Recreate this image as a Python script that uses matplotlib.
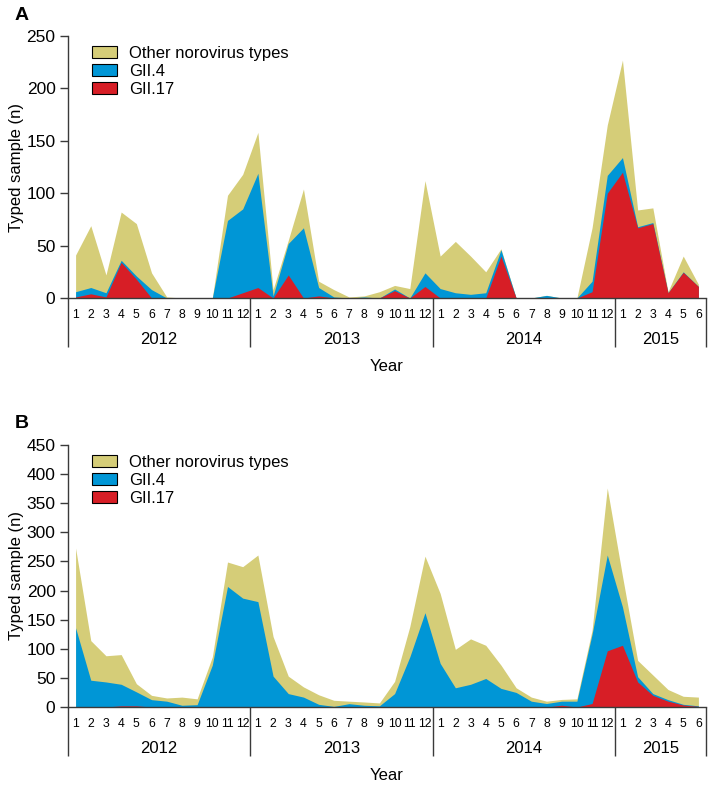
import numpy as np
import matplotlib
matplotlib.use("Agg")
import matplotlib.pyplot as plt
from matplotlib.patches import Patch

plt.rcParams["font.family"] = ["Liberation Sans", "DejaVu Sans"]

# month labels (Jan 2012 .. Jun 2015)
months = [str(m) for m in range(1, 13)] * 3 + [str(m) for m in range(1, 7)]
years = ["2012", "2013", "2014", "2015"]
year_len = [12, 12, 12, 6]

# panel A: top edge of each area (n)
other_a = [41, 69, 22, 82, 71, 24, 1, 0, 0, 0, 98, 118,
           158, 8, 55, 104, 16, 8, 1, 2, 6, 12, 9, 112,
           40, 54, 40, 25, 47, 0, 0, 2.5, 0, 0, 67, 165,
           227, 84, 86, 6, 40, 13]
gii4_a = [6, 10, 5, 36, 21, 8, 0, 0, 0, 0, 74, 85,
          119, 2, 52, 67, 10, 1, 0, 1, 0, 8.6, 0, 24,
          9, 5, 3.5, 5, 46, 0, 0, 2.5, 0, 0, 16, 117,
          134, 68, 72, 5, 25, 11]
gii17_a = [1, 4, 1, 34, 18, 0, 0, 0, 0, 0, 0, 5,
           10, 0, 22, 0, 2, 0, 0, 0, 0, 7, 0, 11,
           0, 0, 0, 0, 40, 0, 0, 0, 0, 0, 6, 100,
           120, 67, 71, 5, 24.5, 11]

# panel B
other_b = [273, 114, 88, 90, 40, 20, 15.5, 17, 14, 86, 249, 241,
           261, 121, 53, 34.5, 21, 11.5, 10, 8.6, 7, 44, 138, 259,
           195, 99, 117, 106, 72, 33, 17, 10, 13, 14, 132, 376,
           225, 80, 55, 30, 18.4, 17]
gii4_b = [136, 46, 43, 39, 26, 12.6, 10, 3, 4, 72, 207, 187,
          181, 53, 23, 17, 4.6, 1, 5.7, 3, 2, 23, 86, 162,
          75, 33, 39, 49, 32, 25, 10, 6, 10, 10, 125, 261,
          172, 52, 23, 12.6, 4.6, 2]
gii17_b = [0, 0, 0, 2, 2, 0, 0, 0, 0, 0, 0, 0,
           0, 0, 0, 0, 0, 0, 0, 0, 0, 0, 0, 0,
           0, 0, 0, 0, 0, 0, 0, 0, 3, 0, 6, 96.5,
           106, 43, 20, 10, 3.5, 1]

YELLOW = "#d5cd78"
BLUE = "#0096d6"
RED = "#d71e26"
LINE = "#3a3a3a"

W, H = 715, 790


def draw_panel(ax, other, gii4, gii17, ymax, step, letter):
    x = np.arange(len(months))
    ax.fill_between(x, other, color=YELLOW, lw=0)
    ax.fill_between(x, gii4, color=BLUE, lw=0)
    ax.fill_between(x, gii17, color=RED, lw=0)

    ax.set_xlim(-0.5, len(months) - 0.5)
    ax.set_ylim(0, ymax)
    ax.set_yticks(np.arange(0, ymax + 1, step))
    ax.tick_params(axis="y", labelsize=12.5, length=6, width=1, color=LINE, pad=3)
    ax.set_xticks(x)
    ax.set_xticklabels(months, fontsize=8.8)
    ax.tick_params(axis="x", length=0, pad=8)

    for s in ["top", "right"]:
        ax.spines[s].set_visible(False)
    for s in ["left", "bottom"]:
        ax.spines[s].set_color(LINE)
        ax.spines[s].set_linewidth(1)

    # year separators and labels under the month labels
    trans = ax.get_xaxis_transform()
    edges = np.concatenate([[0], np.cumsum(year_len)]) - 0.5
    ax.vlines(edges, -0.187, 0, transform=trans, clip_on=False, color=LINE, lw=1)
    for yr, a, b in zip(years, edges[:-1], edges[1:]):
        ax.text((a + b) / 2, -0.16, yr, transform=trans, ha="center", va="center", fontsize=12)
    ax.text(0.5, -0.263, "Year", transform=ax.transAxes, ha="center", va="center", fontsize=12)

    handles = [Patch(facecolor=YELLOW, edgecolor="black", lw=0.8, label="Other norovirus types"),
               Patch(facecolor=BLUE, edgecolor="black", lw=0.8, label="GII.4"),
               Patch(facecolor=RED, edgecolor="black", lw=0.8, label="GII.17")]
    ax.legend(handles=handles, loc="upper left", bbox_to_anchor=(0.037, 0.962), frameon=False,
              fontsize=12, handlelength=1.5, handleheight=0.7, handletextpad=0.75,
              labelspacing=0.18, borderpad=0, borderaxespad=0)

    pos = ax.get_position()
    fig.text(15 / W, pos.y1 + 21 / H, letter, fontsize=14, fontweight="bold", ha="left", va="center")
    fig.text(17 / W, (pos.y0 + pos.y1) / 2, "Typed sample (n)", rotation=90,
             ha="center", va="center", fontsize=12)


fig = plt.figure(figsize=(W / 100, H / 100), dpi=100)
axA = fig.add_axes([68 / W, (H - 298) / H, 638 / W, 262 / H])
axB = fig.add_axes([68 / W, (H - 707) / H, 638 / W, 262 / H])

draw_panel(axA, other_a, gii4_a, gii17_a, 250, 50, "A")
draw_panel(axB, other_b, gii4_b, gii17_b, 450, 50, "B")

fig.savefig("out.png", dpi=100)
